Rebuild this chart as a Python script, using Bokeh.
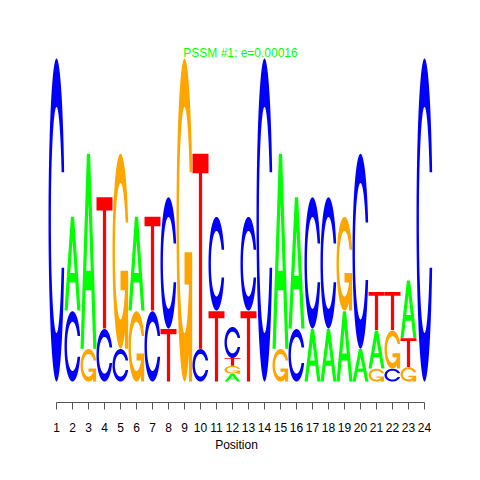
import numpy as np
from bokeh.plotting import figure
from bokeh.models import LinearAxis, FixedTicker, Range1d, Label, ColumnDataSource
from bokeh.embed import file_html
from bokeh.resources import INLINE

# ---- data: letter heights (bits) per position ----
positions = list(range(1, 25))
A_bits = [0, 0.580, 1.207, 0, 0, 0.580, 0, 0, 0, 0, 0, 0.048, 0, 0, 1.207, 0.812, 0.325, 0.325, 0.435, 0.201, 0.236, 0, 0.355, 0]
C_bits = [2.0, 0.435, 0, 0.325, 0.201, 0, 0.435, 0.812, 0, 0.201, 0.580, 0.192, 0.580, 2.0, 0, 0.325, 0.812, 0.812, 0, 1.207, 0, 0.079, 0, 2.0]
G_bits = [0, 0, 0.201, 0, 1.207, 0.435, 0, 0, 2.0, 0, 0, 0.048, 0, 0, 0.201, 0, 0, 0, 0.580, 0, 0.079, 0.236, 0.089, 0]
T_bits = [0, 0, 0, 0.812, 0, 0, 0.580, 0.325, 0, 1.207, 0.435, 0.048, 0.435, 0, 0, 0, 0, 0, 0, 0, 0.236, 0.236, 0.178, 0]
letters = ["A", "C", "G", "T"]
letter_colors = {"A": "#00FF00", "C": "#0000FF", "G": "#FFA500", "T": "#FF0000"}
title_text = "PSSM #1; e=0.00016"
x_label = "Position"

# ---- letter templates in unit square ----
def c_shape():
    a1 = np.linspace(0.3 + np.pi / 2, np.pi, 100)
    a2 = np.linspace(np.pi, 1.5 * np.pi, 100)
    xl = np.concatenate([0.5 + 0.5 * np.sin(a1), 0.5 + 0.5 * np.sin(a2)])
    yl1 = 0.5 + 0.5 * np.cos(a1)
    yl = np.concatenate([yl1, 0.5 + 0.5 * np.cos(a2)])
    x = np.concatenate([xl, xl[::-1]])
    y = np.concatenate([yl, 1 - yl[::-1]])
    xi1 = 0.5 + 0.35 * np.sin(a1)
    yi1 = 0.5 + 0.35 * np.cos(a1)
    m = yi1 <= yl1.max()
    xi1 = xi1[m]; yi1 = yi1[m].copy(); yi1[0] = yl1.max()
    xi = np.concatenate([xi1, 0.5 + 0.35 * np.sin(a2)])
    yi = np.concatenate([yi1, 0.5 + 0.35 * np.cos(a2)])
    x1 = np.concatenate([xi, xi[::-1]])
    y1 = np.concatenate([yi, 1 - yi[::-1]])
    return np.concatenate([x, x1[::-1]]), np.concatenate([y, y1[::-1]]), 0.5 + 0.5 * np.sin(a1).max()

cx, cy, r1 = c_shape()
templates = {
    "A": [(np.array([0, 4, 6, 10, 8, 6.8, 3.2, 2]) * 0.1, np.array([0, 10, 10, 0, 0, 3, 3, 0]) * 0.1, None),
          (np.array([3.6, 5, 6.4]) * 0.1, np.array([4, 7.5, 4]) * 0.1, "white")],
    "C": [(cx, cy, None)],
    "G": [(cx, cy, None),
          (np.array([r1, 0.5, 0.5, r1 - 0.2, r1 - 0.2, r1]), np.array([0.4, 0.4, 0.3, 0.3, 0, 0]), None)],
    "T": [(np.array([0, 10, 10, 6, 6, 4, 4, 0]) * 0.1, np.array([10, 10, 9, 9, 0, 0, 9, 9]) * 0.1, None)],
}

heights = {"A": A_bits, "C": C_bits, "G": G_bits, "T": T_bits}
xs, ys, cols = [], [], []
for j, pos in enumerate(positions):
    hts = [heights[l][j] for l in letters]
    order = sorted(range(4), key=lambda k: hts[k])
    ypos = 0.0
    for k in order:
        l = letters[k]; ht = hts[k]
        if ht <= 0:
            continue
        for tx, ty, col in templates[l]:
            xs.append(list(pos - 0.5 + tx))
            ys.append(list(ypos + ht * ty))
            cols.append(col if col else letter_colors[l])
        ypos += ht * 1.01

src = ColumnDataSource(dict(xs=xs, ys=ys, color=cols))

W = 472
px_per_bit = 161.5
base_px = 381.0
frame_h = 402.0
p = figure(width=W, height=W,
           x_range=Range1d(-2.5, -2.5 + W / 16.0),
           y_range=Range1d(-(frame_h - base_px) / px_per_bit, base_px / px_per_bit),
           x_axis_type=None, y_axis_type=None,
           toolbar_location=None, output_backend="svg",
           min_border_left=0, min_border_right=0, min_border_top=0, min_border_bottom=W - int(frame_h))
p.outline_line_color = None
p.background_fill_color = "white"
p.border_fill_color = "white"

p.patches("xs", "ys", source=src, fill_color="color", line_color=None)

ax = LinearAxis(ticker=FixedTicker(ticks=positions), axis_label=x_label, bounds=(1, 24))
ax.minor_tick_line_color = None
ax.major_tick_in = 0
ax.major_tick_out = 7
ax.axis_line_color = "#555555"
ax.major_tick_line_color = "#555555"
ax.major_label_standoff = 13
ax.major_label_text_font = "Liberation Sans"
ax.major_label_text_font_size = "12px"
ax.major_label_text_color = "black"
ax.axis_label_text_font = "Liberation Sans"
ax.axis_label_text_font_size = "12px"
ax.axis_label_text_font_style = "normal"
ax.axis_label_text_color = "black"
ax.axis_label_standoff = 3
p.add_layout(ax, "below")

p.add_layout(Label(x=12.5, y=2.035, text=title_text, text_align="center", text_baseline="alphabetic",
                   text_font="Liberation Sans", text_font_size="12px", text_color="#00FF00"))

open("out.html", "w").write(file_html(p, INLINE))
